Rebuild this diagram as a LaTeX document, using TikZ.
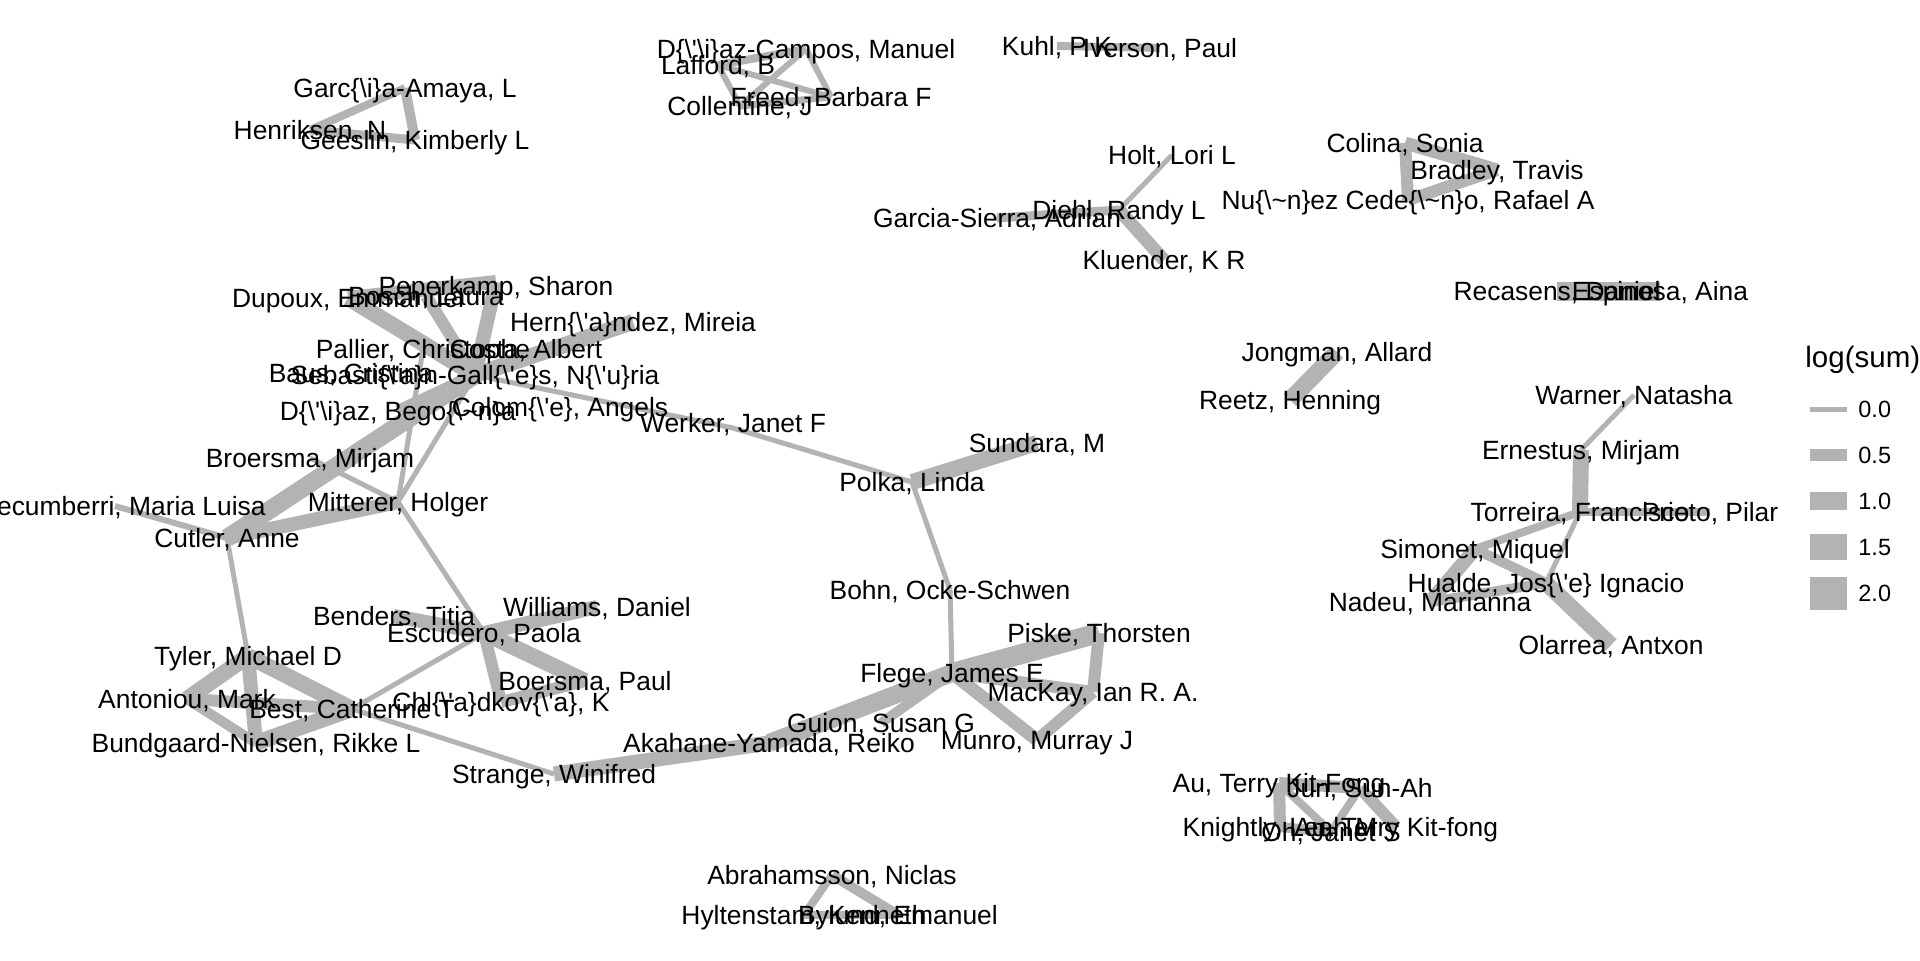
\documentclass[tikz,border=0pt]{standalone}
\usepackage{fontspec}
\setmainfont{Liberation Sans}
% literal TeX-escape characters printed in the author names
\newcommand{\Bsl}{\textbackslash}
\newcommand{\Lbr}{\textbraceleft}
\newcommand{\Rbr}{\textbraceright}
\newcommand{\Apo}{\textquotesingle}
\newcommand{\Tld}{\textasciitilde}
\definecolor{edgegrey}{RGB}{179,179,179}
\begin{document}
\begin{tikzpicture}[x=0.5pt,y=-0.5pt,
  lbl/.style={font=\fontsize{13.2pt}{15pt}\selectfont, inner sep=0pt,
              text height=9.45pt, text depth=0pt, anchor=center},
  ed/.style={draw=edgegrey, line width=#1*0.5pt},
  ed/.default=5,
  keytxt/.style={font=\fontsize{11.75pt}{13pt}\selectfont, inner sep=0pt,
              text height=8.4pt, text depth=0pt, anchor=west},
]
\useasboundingbox (0,0) rectangle (1920,960);
\fill[white] (0,0) rectangle (1920,960);

% ---------- node positions ----------
% small components
\coordinate (ga)  at (405,88);
\coordinate (hen) at (310,130);
\coordinate (gee) at (415,140);
\coordinate (dc)  at (806,49);
\coordinate (laf) at (718,65);
\coordinate (frd) at (831,97);
\coordinate (col) at (740,106);
\coordinate (kuhl) at (1057,46);
\coordinate (iver) at (1160,48);
\coordinate (holt) at (1172,155);
\coordinate (diehl) at (1119,210);
\coordinate (gs)  at (997,218);
\coordinate (klu) at (1164,260);
\coordinate (cln) at (1405,143);
\coordinate (bra) at (1497,170);
\coordinate (nun) at (1408,200);
\coordinate (rec) at (1557,291);
\coordinate (esp) at (1660,291);
\coordinate (jon) at (1337,352);
\coordinate (ree) at (1290,400);
\coordinate (war) at (1634,395);
\coordinate (ern) at (1581,450);
\coordinate (tor) at (1580,512);
\coordinate (pri) at (1710,512);
\coordinate (sim) at (1475,549);
\coordinate (hua) at (1546,583);
\coordinate (nad) at (1430,602);
\coordinate (ola) at (1611,645);
\coordinate (aukf) at (1279,783);
\coordinate (jun) at (1360,788);
\coordinate (kni) at (1280,827);
\coordinate (oh)  at (1331,832);
\coordinate (aut) at (1396,827);
\coordinate (abr) at (832,875);
\coordinate (hyl) at (804,915);
\coordinate (byl) at (898,915);
% main component
\coordinate (pep) at (496,282);
\coordinate (dup) at (348,298);
\coordinate (bos) at (426,296);
\coordinate (her) at (633,322);
\coordinate (pal) at (423,349);
\coordinate (cos) at (526,349);
\coordinate (bau) at (351,373);
\coordinate (seb) at (475,375);
\coordinate (dia) at (398,411);
\coordinate (clm) at (560,407);
\coordinate (wer) at (733,428);
\coordinate (bro) at (310,458);
\coordinate (mit) at (398,502);
\coordinate (lec) at (115,506);
\coordinate (cut) at (227,538);
\coordinate (ben) at (394,616);
\coordinate (wil) at (597,607);
\coordinate (esc) at (484,633);
\coordinate (tyl) at (248,656);
\coordinate (boe) at (585,681);
\coordinate (ant) at (187,699);
\coordinate (bst) at (352,709);
\coordinate (chl) at (501,702);
\coordinate (bun) at (256,743);
\coordinate (str) at (554,774);
\coordinate (aka) at (769,743);
\coordinate (gui) at (881,723);
\coordinate (fle) at (952,673);
\coordinate (boh) at (950,590);
\coordinate (pol) at (912,482);
\coordinate (sun) at (1037,443);
\coordinate (pis) at (1099,633);
\coordinate (mac) at (1093,692);
\coordinate (mun) at (1037,740);

% ---------- edges ----------
\draw[ed=8]  (hen) -- (ga);
\draw[ed=10] (ga) -- (gee);
\draw[ed=9]  (hen) -- (gee);

\draw[ed=8] (laf) -- (dc);
\draw[ed=6] (dc) -- (frd);
\draw[ed=6] (laf) -- (frd);
\draw[ed=6] (laf) -- (col);
\draw[ed=6] (col) -- (dc);
\draw[ed=7] (col) -- (frd);

\draw[ed=8] (kuhl) -- (iver);

\draw[ed=5]  (holt) -- (diehl);
\draw[ed=9]  (gs) -- (diehl);
\draw[ed=13] (diehl) -- (klu);

\draw[ed=13] (cln) -- (bra);
\draw[ed=12] (cln) -- (nun);
\draw[ed=12] (bra) -- (nun);

\draw[ed=19] (rec) -- (esp);
\draw[ed=17] (jon) -- (ree);

\draw[ed=5]  (war) -- (ern);
\draw[ed=16] (ern) -- (tor);
\draw[ed=8]  (tor) -- (pri);
\draw[ed=8]  (tor) -- (sim);
\draw[ed=5]  (tor) -- (hua);
\draw[ed=14] (sim) -- (nad);
\draw[ed=10] (sim) -- (hua);
\draw[ed=10] (nad) -- (hua);
\draw[ed=16] (hua) -- (ola);

\draw[ed=12] (aukf) -- (jun);
\draw[ed=12] (aukf) -- (kni);
\draw[ed=8]  (aukf) -- (oh);
\draw[ed=10] (kni) -- (oh);
\draw[ed=8]  (oh) -- (jun);
\draw[ed=12] (jun) -- (aut);

\draw[ed=8]  (abr) -- (hyl);
\draw[ed=10] (abr) -- (byl);
\draw[ed=8]  (hyl) -- (byl);

\draw[ed=14] (dup) -- (pep);
\draw[ed=16] (dup) -- (seb);
\draw[ed=12] (bos) -- (seb);
\draw[ed=14] (pep) -- (seb);
\draw[ed=16] (her) -- (seb);
\draw[ed=12] (seb) -- (dia);
\draw[ed=18] (cut) -- (seb);
\draw[ed=14] (cut) -- (mit);
\draw[ed=6]  (lec) -- (cut);
\draw[ed]    (cut) -- (tyl);
\draw[ed]    (bro) -- (mit);
\draw[ed]    (mit) -- (seb);
\draw[ed]    (mit) -- (pal);
\draw[ed]    (mit) -- (esc);
\draw[ed]    (seb) -- (wer);
\draw[ed]    (wer) -- (pol);

\draw[ed=14] (ben) -- (esc);
\draw[ed=14] (esc) -- (wil);
\draw[ed=16] (esc) -- (boe);
\draw[ed=12] (esc) -- (chl);
\draw[ed=12] (chl) -- (boe);
\draw[ed]    (bst) -- (esc);
\draw[ed]    (bst) -- (str);

\draw[ed=16] (tyl) -- (ant);
\draw[ed=16] (tyl) -- (bst);
\draw[ed=14] (tyl) -- (bun);
\draw[ed=12] (ant) -- (bst);
\draw[ed=10] (ant) -- (bun);
\draw[ed=16] (bst) -- (bun);

\draw[ed=15] (str) -- (aka);
\draw[ed=18] (aka) -- (fle);
\draw[ed=10] (gui) -- (fle);
\draw[ed]    (pol) -- (boh);
\draw[ed]    (boh) -- (fle);
\draw[ed=16] (pol) -- (sun);
\draw[ed=20] (fle) -- (pis);
\draw[ed=12] (fle) -- (mac);
\draw[ed=13] (fle) -- (mun);
\draw[ed=12] (mac) -- (mun);
\draw[ed=12] (pis) -- (mac);

% ---------- labels ----------
\node[lbl] (nga)  at (ga)  {Garc\Lbr\Bsl i\Rbr a-Amaya, L};
\node[lbl] (nhen) at (hen) {Henriksen, N};
\node[lbl] (ngee) at (gee) {Geeslin, Kimberly L};
\node[lbl] (ndc)  at (dc)  {D\Lbr\Bsl\Apo\Bsl i\Rbr az-Campos, Manuel};
\node[lbl] (nlaf) at (laf) {Lafford, B};
\node[lbl] (nfrd) at (frd) {Freed, Barbara F};
\node[lbl] (ncol) at (col) {Collentine, J};
\node[lbl] (nkuhl) at (kuhl) {Kuhl, P K};
\node[lbl] (niver) at (iver) {Iverson, Paul};
\node[lbl] (nholt) at (holt) {Holt, Lori L};
\node[lbl] (ndiehl) at (diehl) {Diehl, Randy L};
\node[lbl] (ngs)  at (gs)  {Garcia-Sierra, Adrian};
\node[lbl] (nklu) at (klu) {Kluender, K R};
\node[lbl] (ncln) at (cln) {Colina, Sonia};
\node[lbl] (nbra) at (bra) {Bradley, Travis};
\node[lbl] (nnun) at (nun) {Nu\Lbr\Bsl\Tld n\Rbr ez Cede\Lbr\Bsl\Tld n\Rbr o, Rafael A};
\node[lbl] (nrec) at (rec) {Recasens, Daniel};
\node[lbl] (nesp) at (esp) {Espinosa, Aina};
\node[lbl] (njon) at (jon) {Jongman, Allard};
\node[lbl] (nree) at (ree) {Reetz, Henning};
\node[lbl] (nwar) at (war) {Warner, Natasha};
\node[lbl] (nern) at (ern) {Ernestus, Mirjam};
\node[lbl] (ntor) at (tor) {Torreira, Francisco};
\node[lbl] (npri) at (pri) {Prieto, Pilar};
\node[lbl] (nsim) at (sim) {Simonet, Miquel};
\node[lbl] (nhua) at (hua) {Hualde, Jos\Lbr\Bsl\Apo e\Rbr{} Ignacio};
\node[lbl] (nnad) at (nad) {Nadeu, Marianna};
\node[lbl] (nola) at (ola) {Olarrea, Antxon};
\node[lbl] (naukf) at (aukf) {Au, Terry Kit-Fong};
\node[lbl] (njun) at (jun) {Jun, Sun-Ah};
\node[lbl] (nkni) at (kni) {Knightly, Leah M};
\node[lbl] (noh)  at (oh)  {Oh, Janet S};
\node[lbl] (naut) at (aut) {Au, Terry Kit-fong};
\node[lbl] (nabr) at (abr) {Abrahamsson, Niclas};
\node[lbl] (nhyl) at (hyl) {Hyltenstam, Kenneth};
\node[lbl] (nbyl) at (byl) {Bylund, Emanuel};

\node[lbl] (npep) at (496,286) {Peperkamp, Sharon};
\node[lbl] (ndup) at (dup) {Dupoux, Emmanuel};
\node[lbl] (nbos) at (bos) {Bosch, Laura};
\node[lbl] (nher) at (her) {Hern\Lbr\Bsl\Apo a\Rbr ndez, Mireia};
\node[lbl] (npal) at (pal) {Pallier, Christophe};
\node[lbl] (ncos) at (cos) {Costa, Albert};
\node[lbl] (nbau) at (bau) {Baus, Cristina};
\node[lbl] (nseb) at (seb) {Sebasti\Lbr\Bsl\Apo a\Rbr n-Gall\Lbr\Bsl\Apo e\Rbr s, N\Lbr\Bsl\Apo u\Rbr ria};
\node[lbl] (ndia) at (dia) {D\Lbr\Bsl\Apo\Bsl i\Rbr az, Bego\Lbr\Bsl\Tld n\Rbr a};
\node[lbl] (nclm) at (clm) {Colom\Lbr\Bsl\Apo e\Rbr, Angels};
\node[lbl] (nwer) at (733,423) {Werker, Janet F};
\node[lbl] (nbro) at (bro) {Broersma, Mirjam};
\node[lbl] (nmit) at (mit) {Mitterer, Holger};
\node[lbl,anchor=east] (nlec) at (266,506) {ecumberri, Maria Luisa};
\node[lbl] (ncut) at (cut) {Cutler, Anne};
\node[lbl] (nben) at (ben) {Benders, Titia};
\node[lbl] (nwil) at (wil) {Williams, Daniel};
\node[lbl] (nesc) at (esc) {Escudero, Paola};
\node[lbl] (ntyl) at (tyl) {Tyler, Michael D};
\node[lbl] (nboe) at (boe) {Boersma, Paul};
\node[lbl] (nant) at (ant) {Antoniou, Mark};
\node[lbl] (nbst) at (bst) {Best, Catherine T};
\node[lbl] (nchl) at (chl) {Chl\Lbr\Bsl\Apo a\Rbr dkov\Lbr\Bsl\Apo a\Rbr, K};
\node[lbl] (nbun) at (bun) {Bundgaard-Nielsen, Rikke L};
\node[lbl] (nstr) at (str) {Strange, Winifred};
\node[lbl] (naka) at (aka) {Akahane-Yamada, Reiko};
\node[lbl] (ngui) at (gui) {Guion, Susan G};
\node[lbl] (nfle) at (fle) {Flege, James E};
\node[lbl] (nboh) at (boh) {Bohn, Ocke-Schwen};
\node[lbl] (npol) at (pol) {Polka, Linda};
\node[lbl] (nsun) at (sun) {Sundara, M};
\node[lbl] (npis) at (pis) {Piske, Thorsten};
\node[lbl] (nmac) at (mac) {MacKay, Ian R. A.};
\node[lbl] (nmun) at (mun) {Munro, Murray J};

% ---------- legend ----------
\node[font=\fontsize{14.75pt}{16pt}\selectfont, inner sep=0pt, anchor=west,
      text height=10.6pt, text depth=2.6pt] (legtitle) at (1805,359) {log(sum)};
\foreach \v/\yy/\w in {0.0/409/5, 0.5/455/12, 1.0/501/18, 1.5/547/26, 2.0/593/33}{
  \draw[ed=\w] (1810,\yy) -- (1847,\yy);
  \node[keytxt] (key\yy) at (1858,\yy) {\v};
}
\end{tikzpicture}
\end{document}
